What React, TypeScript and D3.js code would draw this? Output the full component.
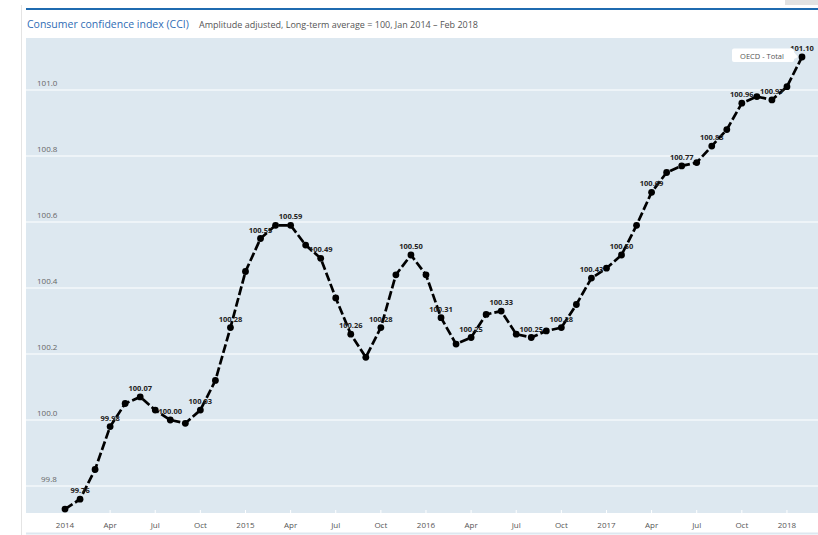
import * as d3 from 'd3';

const months = ['Jan', 'Feb', 'Mar', 'Apr', 'May', 'Jun', 'Jul', 'Aug', 'Sep', 'Oct', 'Nov', 'Dec'];
const startYear = 2014;

// monthly CCI, Jan 2014 - Feb 2018
const values2014 = [99.73, 99.76, 99.85, 99.98, 100.05, 100.07, 100.03, 100.0, 99.99, 100.03, 100.12, 100.28];
const values2015 = [100.45, 100.55, 100.59, 100.59, 100.53, 100.49, 100.37, 100.26, 100.19, 100.28, 100.44, 100.5];
const values2016 = [100.44, 100.31, 100.23, 100.25, 100.32, 100.33, 100.26, 100.25, 100.27, 100.28, 100.35, 100.43];
const values2017 = [100.46, 100.5, 100.59, 100.69, 100.75, 100.77, 100.78, 100.83, 100.88, 100.96, 100.98, 100.97];
const values2018 = [101.01, 101.1];

const yTicks = [99.8, 100.0, 100.2, 100.4, 100.6, 100.8, 101.0];
const seriesName = 'OECD - Total';

const values = [...values2014, ...values2015, ...values2016, ...values2017, ...values2018];

const W = 818;
const H = 535;
const plotLeft = 26;
const plotTop = 38;
const plotBottom = 513;

export default function App() {
  const x = d3.scaleLinear().domain([0, values.length - 1]).range([65, 802]);
  const y = d3.scaleLinear().domain([99.8, 101.0]).range([486, 90]);

  const line = d3
    .line<number>()
    .x((_, i) => x(i))
    .y(d => y(d));

  const xTicks = d3.range(0, values.length, 3);
  const tickLabel = (i: number) =>
    i % 12 === 0 ? String(startYear + i / 12) : months[i % 12];

  const last = values.length - 1;
  const lx = x(last);
  const ly = y(values[last]);

  return (
    <svg
      width={W}
      height={H}
      style={{ position: 'absolute', left: 0, top: 0, background: '#fff' }}
      fontFamily="'Open Sans', sans-serif"
    >
      <rect x={785} y={0} width={33} height={5} fill="#e2e2e2" />
      <line x1={21.5} x2={21.5} y1={5} y2={H} stroke="#e4e4e4" />
      <rect x={plotLeft} y={8} width={W - plotLeft} height={2} fill="#1f6bb0" />
      <text x={plotLeft + 1} y={28} fontSize={10.5} fill="#2f6db5">
        Consumer confidence index (CCI)
      </text>
      <text x={199} y={28} fontSize={9} fill="#555">
        Amplitude adjusted, Long-term average = 100, Jan 2014 – Feb 2018
      </text>

      <rect x={plotLeft} y={plotTop} width={W - plotLeft} height={plotBottom - plotTop} fill="#dde8f0" />
      {yTicks.map(t => (
        <g key={t}>
          <line x1={plotLeft} x2={W} y1={y(t)} y2={y(t)} stroke="#fff" strokeWidth={1.2} />
          <text x={t < 100 ? 41 : 37} y={y(t) - 4} fontSize={8} fill="#666">
            {t.toFixed(1)}
          </text>
        </g>
      ))}

      {xTicks.map(i => (
        <g key={i}>
          <line x1={x(i)} x2={x(i)} y1={plotBottom - 3} y2={plotBottom} stroke="#fff" strokeWidth={1} />
          <text x={x(i)} y={528} fontSize={8} fill="#555" textAnchor="middle">
            {tickLabel(i)}
          </text>
        </g>
      ))}
      <line x1={plotLeft} x2={W} y1={533.5} y2={533.5} stroke="#dde8f0" strokeWidth={2} />

      <path
        d={line(values) || ''}
        fill="none"
        stroke="#000"
        strokeWidth={2.7}
        strokeDasharray="9,3"
      />
      {values.map((v, i) => (
        <circle key={i} cx={x(i)} cy={y(v)} r={3.4} fill="#000" />
      ))}
      {values.map((v, i) =>
        i % 2 === 1 ? (
          <text
            key={'l' + i}
            x={x(i)}
            y={y(v) - 6}
            fontSize={7.5}
            fontWeight="bold"
            fill="#222"
            textAnchor="middle"
          >
            {v.toFixed(2)}
          </text>
        ) : null
      )}

      <g>
        <rect x={732} y={48.5} width={62} height={13.5} rx={2} fill="#fff" />
        <path d={`M793,51 L${lx - 4},${ly} L793,59.5 Z`} fill="#fff" />
        <text x={762} y={58.5} fontSize={7.5} fill="#555" textAnchor="middle">
          {seriesName}
        </text>
      </g>
    </svg>
  );
}
